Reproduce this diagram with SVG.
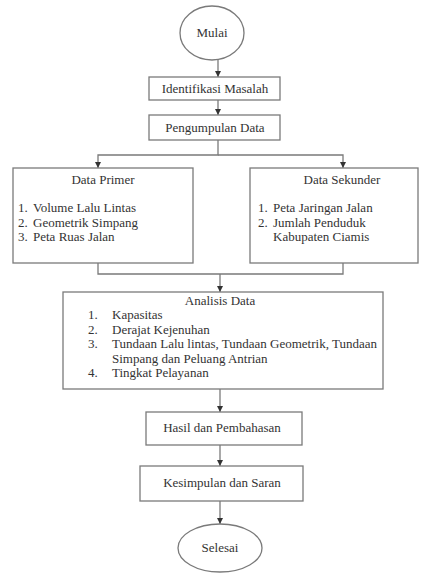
<svg xmlns="http://www.w3.org/2000/svg" width="430" height="573" viewBox="0 0 430 573" font-family="Liberation Serif, serif" font-size="13">
<defs>
<style>
.n{fill:#fff;stroke:#7a7a7a;stroke-width:1.3}
.c{fill:none;stroke:#7a7a7a;stroke-width:1.3}
.t{font-family:'Liberation Serif',serif;font-size:13px;fill:#333}
.m{text-anchor:middle}
</style>
<marker id="a" viewBox="0 0 10 10" refX="10" refY="5" markerWidth="5" markerHeight="5" orient="auto">
<path d="M0,0L10,5L0,10z" fill="#333"/>
</marker>
</defs>
<rect width="430" height="573" fill="#fff"/>
<g id="connectors">
<line class="c" x1="218" y1="60" x2="218" y2="77" marker-end="url(#a)"/>
<line class="c" x1="218" y1="100" x2="218" y2="115" marker-end="url(#a)"/>
<polyline class="c" points="218,140 218,155 98,155 98,168" marker-end="url(#a)"/>
<polyline class="c" points="218,155 343,155 343,168" marker-end="url(#a)"/>
<polyline class="c" points="98,263 98,274 343,274 343,263"/>
<line class="c" x1="220" y1="274" x2="220" y2="292" marker-end="url(#a)"/>
<line class="c" x1="220" y1="389" x2="220" y2="412" marker-end="url(#a)"/>
<line class="c" x1="220" y1="445" x2="220" y2="466" marker-end="url(#a)"/>
<line class="c" x1="220" y1="501" x2="220" y2="524" marker-end="url(#a)"/>
</g>
<g id="mulai">
<ellipse class="n" cx="212" cy="33" rx="32" ry="27"/>
<text class="t m" x="212" y="37">Mulai</text>
</g>
<g id="identifikasi">
<rect class="n" x="149" y="77" width="131" height="23"/>
<text class="t m" x="215" y="93">Identifikasi Masalah</text>
</g>
<g id="pengumpulan">
<rect class="n" x="149" y="115" width="131" height="25"/>
<text class="t m" x="215" y="132">Pengumpulan Data</text>
</g>
<g id="primer">
<rect class="n" x="13" y="168" width="180" height="95"/>
<text class="t m" x="103" y="184">Data Primer</text>
<text class="t" x="18" y="212">1.</text><text class="t" x="33" y="212">Volume Lalu Lintas</text>
<text class="t" x="18" y="226.5">2.</text><text class="t" x="33" y="226.5">Geometrik Simpang</text>
<text class="t" x="18" y="241">3.</text><text class="t" x="33" y="241">Peta Ruas Jalan</text>
</g>
<g id="sekunder">
<rect class="n" x="250" y="168" width="168" height="95"/>
<text class="t m" x="342" y="184">Data Sekunder</text>
<text class="t" x="258" y="212">1.</text><text class="t" x="273" y="212">Peta Jaringan Jalan</text>
<text class="t" x="258" y="226.5">2.</text><text class="t" x="273" y="226.5">Jumlah Penduduk</text>
<text class="t" x="273" y="241">Kabupaten Ciamis</text>
</g>
<g id="analisis">
<rect class="n" x="63" y="292" width="320" height="97"/>
<text class="t m" x="220" y="305">Analisis Data</text>
<text class="t" x="88" y="319">1.</text><text class="t" x="112" y="319">Kapasitas</text>
<text class="t" x="88" y="333.5">2.</text><text class="t" x="112" y="333.5">Derajat Kejenuhan</text>
<text class="t" x="88" y="348">3.</text><text class="t" x="112" y="348">Tundaan Lalu lintas, Tundaan Geometrik, Tundaan</text>
<text class="t" x="112" y="362.5">Simpang dan Peluang Antrian</text>
<text class="t" x="88" y="377">4.</text><text class="t" x="112" y="377">Tingkat Pelayanan</text>
</g>
<g id="hasil">
<rect class="n" x="146" y="412" width="156" height="33"/>
<text class="t m" x="222" y="432">Hasil dan Pembahasan</text>
</g>
<g id="kesimpulan">
<rect class="n" x="140" y="466" width="163" height="35"/>
<text class="t m" x="222" y="487">Kesimpulan dan Saran</text>
</g>
<g id="selesai">
<ellipse class="n" cx="220" cy="548" rx="42" ry="24"/>
<text class="t m" x="220" y="552">Selesai</text>
</g>
</svg>
